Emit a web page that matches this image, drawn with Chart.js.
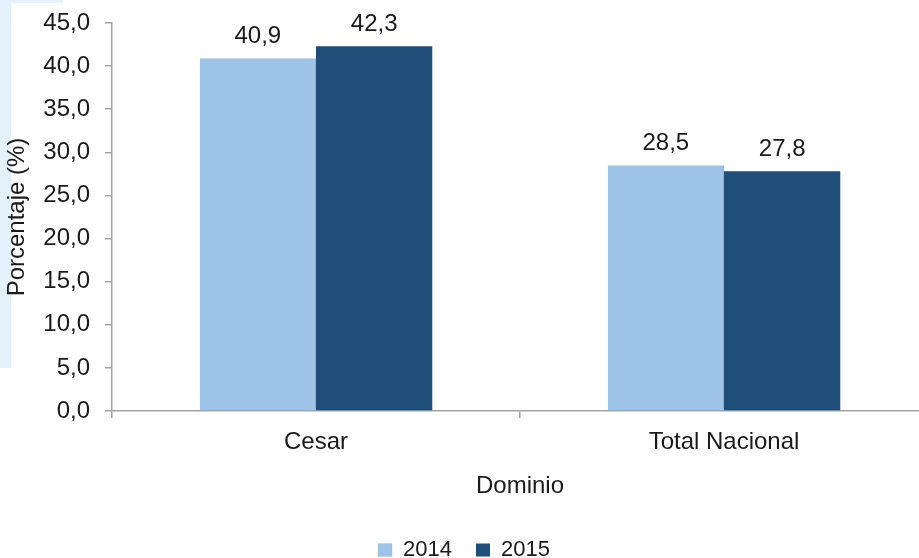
<!DOCTYPE html>
<html>
<head>
<meta charset="utf-8">
<script src="https://cdn.jsdelivr.net/npm/chart.js@4"></script>
<style>
  html, body { margin: 0; padding: 0; background: #fff; overflow: hidden; }
  .strip { position: absolute; left: 0; top: 0; background: #e4f1fa; }
  #wrap { position: absolute; left: 0; top: 0; width: 936px; height: 558px; }
</style>
</head>
<body>
<div class="strip" style="width:11px;height:368px"></div>
<div class="strip" style="width:63px;height:3px"></div>
<div id="wrap"><canvas id="chart" width="936" height="558"></canvas></div>
<script>
// values
const dominios = ["Cesar", "Total Nacional"];
const anios = ["2014", "2015"];
const valores2014 = [40.9, 28.5];
const valores2015 = [42.3, 27.8];
const colores = ["#9dc3e6", "#1f4e79"];

const fmt = (v) => v.toFixed(1).replace(".", ",");
const gris = "#a3a3a3";
const texto = "#1a1a1a";
const familia = "'Liberation Sans', Arial, sans-serif";
Chart.defaults.font.family = familia;
Chart.defaults.font.size = 24;
Chart.defaults.color = texto;

// etiquetas encima de cada barra
const etiquetas = {
  id: "etiquetas",
  afterDatasetsDraw(chart) {
    const ctx = chart.ctx;
    ctx.save();
    ctx.font = "24px " + familia;
    ctx.fillStyle = texto;
    ctx.textAlign = "center";
    ctx.textBaseline = "alphabetic";
    chart.data.datasets.forEach((ds, i) => {
      chart.getDatasetMeta(i).data.forEach((bar, j) => {
        ctx.fillText(fmt(ds.data[j]), bar.x, bar.y - 15);
      });
    });
    ctx.restore();
  }
};

new Chart(document.getElementById("chart"), {
  type: "bar",
  data: {
    labels: dominios,
    datasets: [
      { label: anios[0], data: valores2014, backgroundColor: colores[0], borderColor: "#8fb6da", borderWidth: { right: 1 } },
      { label: anios[1], data: valores2015, backgroundColor: colores[1], borderColor: "#1c476f", borderWidth: 0 }
    ]
  },
  options: {
    responsive: false,
    animation: false,
    categoryPercentage: 0.57,
    barPercentage: 1,
    layout: { padding: { top: 23, left: 0, right: 8, bottom: -13 } },
    plugins: {
      tooltip: { enabled: false },
      legend: {
        position: "bottom",
        labels: { boxWidth: 14, boxHeight: 13, padding: 24, color: texto, font: { size: 22 } }
      }
    },
    scales: {
      y: {
        min: 0,
        max: 45,
        ticks: { stepSize: 5, padding: 15, callback: (v) => fmt(v) },
        grid: { drawOnChartArea: false, tickLength: 7, color: gris, lineWidth: 1.5 },
        border: { color: gris, width: 1.5 },
        title: { display: true, text: "Porcentaje (%)", padding: { top: 3, bottom: 0 } },
        afterFit: (s) => { s.width = 112; s.paddingTop = 0; s.paddingBottom = 0; }
      },
      x: {
        ticks: { padding: 10, font: { size: 24 } },
        grid: { drawOnChartArea: false, offset: true, tickLength: 7, color: gris, lineWidth: 1.5 },
        border: { color: gris, width: 1.5 },
        title: { display: true, text: "Dominio", padding: { top: 16, bottom: 14 } },
        afterFit: (s) => { s.height = 104; }
      }
    }
  },
  plugins: [etiquetas]
});
</script>
</body>
</html>
